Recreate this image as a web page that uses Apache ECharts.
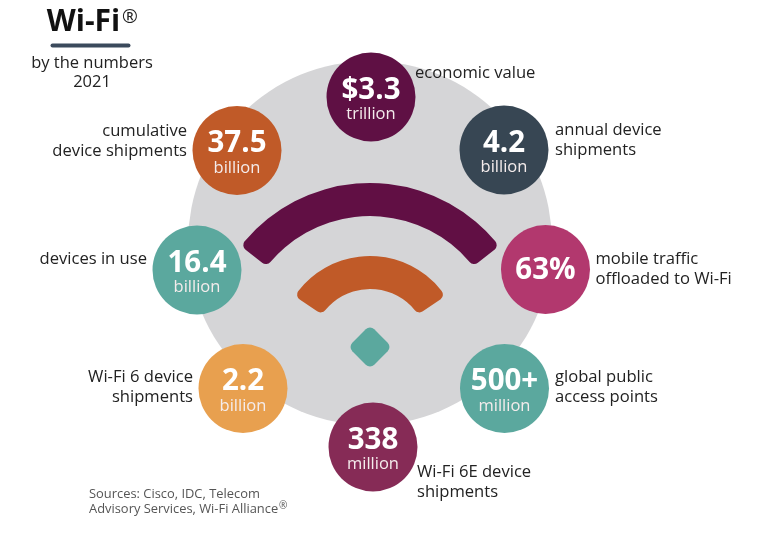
<!DOCTYPE html>
<html>
<head>
<meta charset="utf-8">
<style>
  html, body { margin: 0; padding: 0; background: #fff; }
  #chart { width: 763px; height: 543px; }
</style>
<script src="https://cdn.jsdelivr.net/npm/echarts@6/dist/echarts.min.js"></script>
</head>
<body>
<div id="chart"></div>
<script>
const amounts = ['$3.3', '4.2', '63%', '500+', '338', '2.2', '16.4', '37.5']
const units = ['trillion', 'billion', '', 'million', 'million', 'billion', 'billion', 'billion']
const captions = [
  'economic value',
  'annual device\nshipments',
  'mobile traffic\noffloaded to Wi-Fi',
  'global public\naccess points',
  'Wi-Fi 6E device\nshipments',
  'Wi-Fi 6 device\nshipments',
  'devices in use',
  'cumulative\ndevice shipments',
]

// layout of the infographic, in page pixels
const bubbleX = [371, 504, 545.5, 504.5, 373, 243, 197, 237]
const bubbleY = [97, 150, 269.5, 388.5, 447, 388.5, 270, 150.5]
const bubbleColors = ['#5f1044', '#374653', '#b2386e', '#5ba89e', '#862b56', '#e8a04f', '#5ba89e', '#c05a28']
const captionX = [415, 555, 595.5, 555, 417, 193, 147, 187]
const captionY = [73, 140.5, 269, 387, 482, 387, 259, 141]
const captionSide = ['right', 'right', 'right', 'right', 'right', 'left', 'left', 'left']

const FONT = '"Open Sans", "Noto Sans", sans-serif'
const INK = '#222222'
const wifiX = 370
const wifiY = 347
const rad = (deg) => (deg * Math.PI) / 180

const chart = echarts.init(document.getElementById('chart'), null, { renderer: 'canvas' })

chart.setOption({
  animation: false,
  backgroundColor: '#ffffff',
  grid: { left: 0, right: 0, top: 0, bottom: 0 },
  xAxis: { type: 'value', min: 0, max: 763, show: false },
  yAxis: { type: 'value', min: 0, max: 543, inverse: true, show: false },
  title: [
    {
      text: 'Wi-Fi',
      left: 78.5,
      top: 2,
      textAlign: 'center',
      textStyle: { fontFamily: FONT, fontSize: 30, fontWeight: 700, color: '#111111' },
    },
    {
      text: 'by the numbers\n2021',
      left: 87,
      top: 48.5,
      textAlign: 'center',
      textStyle: { fontFamily: FONT, fontSize: 16.5, fontWeight: 400, color: INK, lineHeight: 19 },
    },
    {
      text: 'Sources: Cisco, IDC, Telecom\nAdvisory Services, Wi-Fi Alliance',
      left: 84,
      top: 481.5,
      textStyle: { fontFamily: FONT, fontSize: 12.9, fontWeight: 400, color: '#555555', lineHeight: 15.5 },
    },
  ],
  series: [
    {
      type: 'scatter',
      z: 1,
      silent: true,
      symbolSize: 364,
      itemStyle: { color: '#d5d5d7', opacity: 1 },
      data: [[370, 243]],
    },
    {
      type: 'scatter',
      z: 4,
      silent: true,
      symbolSize: 89,
      data: amounts.map((amount, i) => ({
        value: [bubbleX[i], bubbleY[i]],
        itemStyle: { color: bubbleColors[i], opacity: 1 },
        label: {
          show: true,
          position: 'inside',
          offset: units[i] ? [0, 3.5] : [0, 1],
          formatter: units[i] ? `{a|${amount}}\n{b|${units[i]}}` : `{a|${amount}}`,
          rich: {
            a: { fontFamily: FONT, fontSize: 29.5, fontWeight: 700, color: '#ffffff', lineHeight: 28, align: 'center' },
            b: { fontFamily: FONT, fontSize: 16.5, color: '#f4ecec', lineHeight: 20, align: 'center' },
          },
        },
      })),
    },
    {
      type: 'scatter',
      z: 4,
      silent: true,
      symbolSize: 0,
      itemStyle: { opacity: 1 },
      data: captions.map((caption, i) => ({
        value: [captionX[i], captionY[i]],
        label: {
          show: true,
          position: captionSide[i],
          distance: 0,
          align: captionSide[i] === 'left' ? 'right' : 'left',
          formatter: caption,
          fontFamily: FONT,
          fontSize: 16.6,
          lineHeight: 20,
          color: INK,
          opacity: 1,
        },
      })),
    },
  ],
  graphic: [
    // wifi glyph
    {
      type: 'sector',
      z: 3,
      silent: true,
      shape: { cx: wifiX, cy: wifiY, r: 164, r0: 131, startAngle: rad(-142), endAngle: rad(-38), clockwise: true, cornerRadius: 6 },
      style: { fill: '#610f44' },
    },
    {
      type: 'sector',
      z: 3,
      silent: true,
      shape: { cx: wifiX, cy: wifiY, r: 91, r0: 58, startAngle: rad(-146), endAngle: rad(-34), clockwise: true, cornerRadius: 6 },
      style: { fill: '#c05a28' },
    },
    {
      type: 'rect',
      z: 3,
      silent: true,
      x: wifiX,
      y: wifiY,
      rotation: rad(45),
      shape: { x: -15.5, y: -15.5, width: 31, height: 31, r: 6 },
      style: { fill: '#5ba89e' },
    },
    // title rule and registered marks
    {
      type: 'rect',
      z: 3,
      silent: true,
      shape: { x: 50.5, y: 43.5, width: 80, height: 4, r: 2 },
      style: { fill: '#3b4a5c' },
    },
    {
      type: 'text',
      z: 3,
      silent: true,
      x: 122,
      y: 8,
      style: { text: '®', fontFamily: FONT, fontSize: 19, fill: '#222222' },
    },
    {
      type: 'text',
      z: 3,
      silent: true,
      x: 279,
      y: 501,
      style: { text: '®', fontFamily: FONT, fontSize: 10, fill: '#555555' },
    },
  ],
})
</script>
</body>
</html>
